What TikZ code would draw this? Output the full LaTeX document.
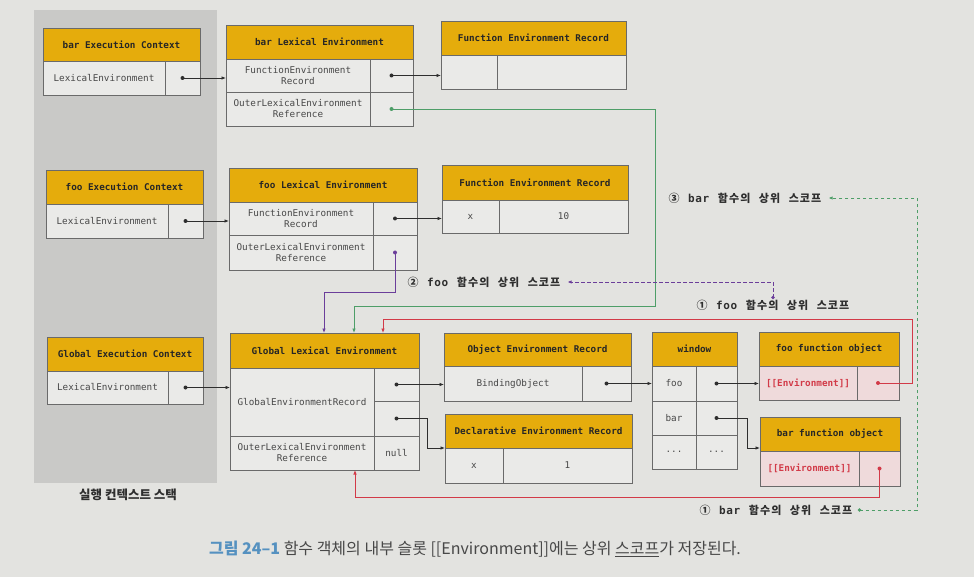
\documentclass[tikz,border=0pt]{standalone}
\usepackage{fontspec}
\setmainfont{Noto Sans CJK KR}
\setmonofont{DejaVu Sans Mono}
\newfontfamily\lblfont[LetterSpace=10]{Noto Sans CJK KR}
\newfontfamily\lblmono[LetterSpace=6]{DejaVu Sans Mono}
\usetikzlibrary{arrows.meta}

\definecolor{pagebg}{HTML}{E3E3E0}
\definecolor{stackbg}{HTML}{C9C9C7}
\definecolor{hdr}{HTML}{E5AC0C}
\definecolor{cellbg}{HTML}{EAEAE8}
\definecolor{edge}{HTML}{6A6A6A}
\definecolor{pinkbg}{HTML}{EFDADB}
\definecolor{envred}{HTML}{D23A48}
\definecolor{linkgreen}{HTML}{4E9E68}
\definecolor{linkpurple}{HTML}{6B3E9A}
\definecolor{ink}{HTML}{2E2E2E}
\definecolor{bodytext}{HTML}{484848}
\definecolor{capblue}{HTML}{5591C0}

% one table cell, given by its corners: name, x1, y1, x2, y2, style, text
\newcommand\cellat[7]{%
  \node[#6, minimum width={(#4-#2)*1pt}, minimum height={(#5-#3)*1pt}]
    (#1) at ({(#2+#4)/2},{(#3+#5)/2}) {#7};}
% scope label text: circled number, function name, Korean words
\newcommand\scopetext[2]{#1\hspace{8.5pt}{\lblmono\bfseries #2}\hspace{8.5pt}함수의\hspace{8.5pt}상위\hspace{8.5pt}스코프}

\tikzset{
  cell/.style={draw=edge, line width=0.7pt, fill=cellbg, inner sep=0pt, outer sep=0pt,
    align=center, text=bodytext, font=\ttfamily\fontsize{9.3}{11}\selectfont},
  head/.style={cell, fill=hdr, text=black!85, font=\ttfamily\bfseries\fontsize{9.3}{11}\selectfont},
  pinkcell/.style={cell, fill=pinkbg, text=envred, font=\ttfamily\bfseries\fontsize{9.3}{11}\selectfont},
  link/.style={draw=ink, line width=0.8pt, -{Latex[length=4.5pt,width=3.6pt]}},
  glink/.style={link, draw=linkgreen},
  plink/.style={link, draw=linkpurple},
  rlink/.style={link, draw=envred},
  scopelabel/.style={text=ink, inner sep=1pt, font=\lblfont\bfseries\fontsize{11}{13}\selectfont},
  gdash/.style={draw=linkgreen, line width=0.8pt, dash pattern=on 3.5pt off 2.5pt, -{Latex[length=4pt,width=3.4pt]}},
  pdash/.style={draw=linkpurple, line width=0.8pt, dash pattern=on 3.5pt off 2.5pt, -{Latex[length=4pt,width=3.4pt]}},
}

\begin{document}
\begin{tikzpicture}[x=1pt, y=-1pt]
\fill[pagebg] (0,0) rectangle (974,577);
\useasboundingbox (0,0) rectangle (974,577);

% execution context stack
\fill[stackbg] (34,10) rectangle (217,483);
\node[text=ink, font=\bfseries\fontsize{12.5}{14}\selectfont] (stackname) at (128,495) {실행 컨텍스트 스택};

% bar execution context
\cellat{barEC-h}{43}{28}{200}{61}{head}{bar Execution Context}
\cellat{barEC-l}{43}{61}{165}{95}{cell}{LexicalEnvironment}
\cellat{barEC-p}{165}{61}{200}{95}{cell}{}

% foo execution context
\cellat{fooEC-h}{46}{170}{203}{204}{head}{foo Execution Context}
\cellat{fooEC-l}{46}{204}{168}{238}{cell}{LexicalEnvironment}
\cellat{fooEC-p}{168}{204}{203}{238}{cell}{}

% global execution context
\cellat{gEC-h}{47}{337}{203}{371}{head}{Global Execution Context}
\cellat{gEC-l}{47}{371}{168}{404}{cell}{LexicalEnvironment}
\cellat{gEC-p}{168}{371}{203}{404}{cell}{}

% bar lexical environment
\cellat{barLE-h}{226}{25}{413}{59}{head}{bar Lexical Environment}
\cellat{barLE-r1}{226}{59}{370}{92}{cell}{FunctionEnvironment\\Record}
\cellat{barLE-p1}{370}{59}{413}{92}{cell}{}
\cellat{barLE-r2}{226}{92}{370}{126}{cell}{OuterLexicalEnvironment\\Reference}
\cellat{barLE-p2}{370}{92}{413}{126}{cell}{}

% foo lexical environment
\cellat{fooLE-h}{229}{168}{417}{202}{head}{foo Lexical Environment}
\cellat{fooLE-r1}{229}{202}{373}{235}{cell}{FunctionEnvironment\\Record}
\cellat{fooLE-p1}{373}{202}{417}{235}{cell}{}
\cellat{fooLE-r2}{229}{235}{373}{270}{cell}{OuterLexicalEnvironment\\Reference}
\cellat{fooLE-p2}{373}{235}{417}{270}{cell}{}

% global lexical environment
\cellat{gLE-h}{230}{333}{419}{368}{head}{Global Lexical Environment}
\cellat{gLE-r}{230}{368}{374}{436}{cell}{GlobalEnvironmentRecord}
\cellat{gLE-p1}{374}{368}{419}{401}{cell}{}
\cellat{gLE-p2}{374}{401}{419}{436}{cell}{}
\cellat{gLE-o}{230}{436}{374}{470}{cell}{OuterLexicalEnvironment\\Reference}
\cellat{gLE-n}{374}{436}{419}{470}{cell}{null}

% function environment records
\cellat{fer1-h}{441}{21}{626}{55}{head}{Function Environment Record}
\cellat{fer1-k}{441}{55}{497}{89}{cell}{}
\cellat{fer1-v}{497}{55}{626}{89}{cell}{}

\cellat{fer2-h}{442}{165}{628}{200}{head}{Function Environment Record}
\cellat{fer2-k}{442}{200}{499}{233}{cell}{x}
\cellat{fer2-v}{499}{200}{628}{233}{cell}{10}

% object and declarative environment records
\cellat{obj-h}{444}{333}{631}{366}{head}{Object Environment Record}
\cellat{obj-b}{444}{366}{582}{401}{cell}{BindingObject}
\cellat{obj-p}{582}{366}{631}{401}{cell}{}

\cellat{decl-h}{445}{414}{632}{448}{head}{Declarative Environment Record}
\cellat{decl-k}{445}{448}{503}{483}{cell}{x}
\cellat{decl-v}{503}{448}{632}{483}{cell}{1}

% window object
\cellat{win-h}{652}{332}{737}{366}{head}{window}
\cellat{win-f1}{652}{366}{696}{401}{cell}{foo}
\cellat{win-f2}{696}{366}{737}{401}{cell}{}
\cellat{win-b1}{652}{401}{696}{435}{cell}{bar}
\cellat{win-b2}{696}{401}{737}{435}{cell}{}
\cellat{win-d1}{652}{435}{696}{469}{cell}{...}
\cellat{win-d2}{696}{435}{737}{469}{cell}{...}

% function objects
\cellat{fooFn-h}{759}{332}{899}{366}{head}{foo function object}
\cellat{fooFn-e}{759}{366}{857}{400}{pinkcell}{[[Environment]]}
\cellat{fooFn-p}{857}{366}{899}{400}{pinkcell}{}

\cellat{barFn-h}{760}{417}{900}{451}{head}{bar function object}
\cellat{barFn-e}{760}{451}{859}{486}{pinkcell}{[[Environment]]}
\cellat{barFn-p}{859}{451}{900}{486}{pinkcell}{}

% pointer dots
\foreach \p in {barEC-p, barLE-p1, fooEC-p, fooLE-p1, gEC-p, gLE-p1, gLE-p2, obj-p, win-f2, win-b2}
  \fill[ink] (\p.center) circle (2);
\fill[linkgreen] (barLE-p2.center) circle (2);
\fill[linkpurple] (fooLE-p2.center) circle (2);
\fill[envred] (fooFn-p.center) circle (2);
\fill[envred] (barFn-p.center) circle (2);

% plain pointers
\draw[link] (barEC-p.center) -- (barEC-p.center -| barLE-r1.west);
\draw[link] (barLE-p1.center) -- (barLE-p1.center -| fer1-k.west);
\draw[link] (fooEC-p.center) -- (fooEC-p.center -| fooLE-r1.west);
\draw[link] (fooLE-p1.center) -- (fooLE-p1.center -| fer2-k.west);
\draw[link] (gEC-p.center) -- (gEC-p.center -| gLE-r.west);
\draw[link] (gLE-p1.center) -- (gLE-p1.center -| obj-b.west);
\draw[link] (gLE-p2.center) -| ([xshift=-18pt]decl-h.south west) -- (decl-h.south west);
\draw[link] (obj-p.center) -- (obj-p.center -| win-f1.west);
\draw[link] (win-f2.center) -- (win-f2.center -| fooFn-e.west);
\draw[link] (win-b2.center) -| ([xshift=-13pt,yshift=3pt]barFn-h.south west) -- ([yshift=3pt]barFn-h.south west);

% outer environment references
\coordinate (gturnA) at (655,306);
\draw[glink] (barLE-p2.center) -| (gturnA) -| ([xshift=124pt]gLE-h.north west);
\coordinate (pturn) at (324,292);
\draw[plink] (fooLE-p2.center) |- (pturn) -- ([xshift=94pt]gLE-h.north west);
\coordinate (rturn) at (912,319);
\draw[rlink] (fooFn-p.center) -| (rturn) -| ([xshift=153pt]gLE-h.north west);
\coordinate (rturnB) at (355,497);
\draw[rlink] (barFn-p.center) |- (rturnB) -- ([xshift=125pt]gLE-o.south west);

% scope labels
\node[scopelabel] (lblBar3) at (745,198) {\scopetext{③}{bar}};
\node[scopelabel] (lblFoo2) at (484,282) {\scopetext{②}{foo}};
\node[scopelabel] (lblFoo1) at (773,305) {\scopetext{①}{foo}};
\node[scopelabel] (lblBar1) at (776,510) {\scopetext{①}{bar}};

% dashed links between the labels
\coordinate (dotG) at ([xshift=6pt]lblBar1.east);
\coordinate (gturnB) at (917,198);
\fill[linkgreen] (dotG) circle (1.9);
\draw[gdash] (dotG) -| (gturnB) -- ([xshift=6pt]lblBar3.east);
\coordinate (dotP) at ([yshift=1pt]lblFoo1.north);
\fill[linkpurple] (dotP) circle (1.9);
\draw[pdash] (dotP) |- ([xshift=6pt]lblFoo2.east);

% caption
\node[text=bodytext, font=\fontsize{16}{19}\selectfont] (caption) at (475,549)
  {\textcolor{capblue}{\bfseries 그림 24–1} 함수 객체의 내부 슬롯 [[Environment]]에는 상위 \underline{스코프}가 저장된다.};
\end{tikzpicture}
\end{document}
